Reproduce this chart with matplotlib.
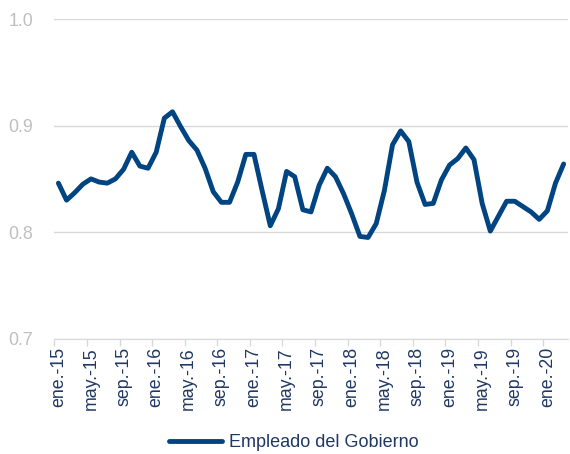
import matplotlib
matplotlib.use("Agg")
import matplotlib.pyplot as plt

# monthly series, ene.-15 .. mar.-20
values = [0.846, 0.830, 0.837, 0.845, 0.850, 0.847, 0.846, 0.850, 0.859, 0.875,
          0.862, 0.860, 0.875, 0.907, 0.913, 0.899, 0.886, 0.877, 0.860, 0.838,
          0.828, 0.828, 0.847, 0.873, 0.873, 0.839, 0.806, 0.822, 0.857, 0.852,
          0.821, 0.819, 0.844, 0.860, 0.852, 0.836, 0.817, 0.796, 0.795, 0.808,
          0.839, 0.882, 0.895, 0.885, 0.847, 0.826, 0.827, 0.849, 0.863, 0.869,
          0.879, 0.868, 0.827, 0.801, 0.815, 0.829, 0.829, 0.824, 0.819, 0.812,
          0.820, 0.846, 0.864]
tick_labels = ["ene.-15", "may.-15", "sep.-15", "ene.-16", "may.-16", "sep.-16",
               "ene.-17", "may.-17", "sep.-17", "ene.-18", "may.-18", "sep.-18",
               "ene.-19", "may.-19", "sep.-19", "ene.-20"]
series_name = "Empleado del Gobierno"

plt.rcParams['font.family'] = ['Liberation Sans', 'DejaVu Sans']

fig = plt.figure(figsize=(5.7, 4.54), dpi=100)
ax = fig.add_axes([0.0953, 0.254, 0.9007, 0.704])

x = list(range(len(values)))
ax.plot(x, values, color='#004481', lw=3.5, solid_joinstyle='round', solid_capstyle='round',
        label=series_name)

ax.set_xlim(-0.5, len(values) - 0.5)
ax.set_ylim(0.7, 1.0)
ax.set_yticks([0.7, 0.8, 0.9, 1.0])
ax.set_yticklabels(["0.7", "0.8", "0.9", "1.0"])
ax.grid(axis='y', color='#D9D9D9', lw=1.0)
ax.set_axisbelow(True)

ax.set_xticks(range(0, len(values), 4))
ax.set_xticklabels(tick_labels, rotation=90)
ax.set_xticks([i - 0.5 for i in range(0, len(values), 4)], minor=True)
ax.tick_params(axis='x', which='major', length=0, pad=6, labelsize=12.8, labelcolor='#1F3864')
ax.tick_params(axis='x', which='minor', length=5, color='#D9D9D9', width=1)
ax.tick_params(axis='y', length=0, pad=15, labelsize=12.8, labelcolor='#BFBFBF')

for s in ['top', 'right', 'left']:
    ax.spines[s].set_visible(False)
ax.spines['bottom'].set_color('#D9D9D9')

fig.legend(loc='lower center', bbox_to_anchor=(0.515, -0.03), frameon=False,
           fontsize=13, handlelength=2.95, handletextpad=0.35,
           labelcolor='#1F3864')

fig.savefig('out.png', dpi=100)
